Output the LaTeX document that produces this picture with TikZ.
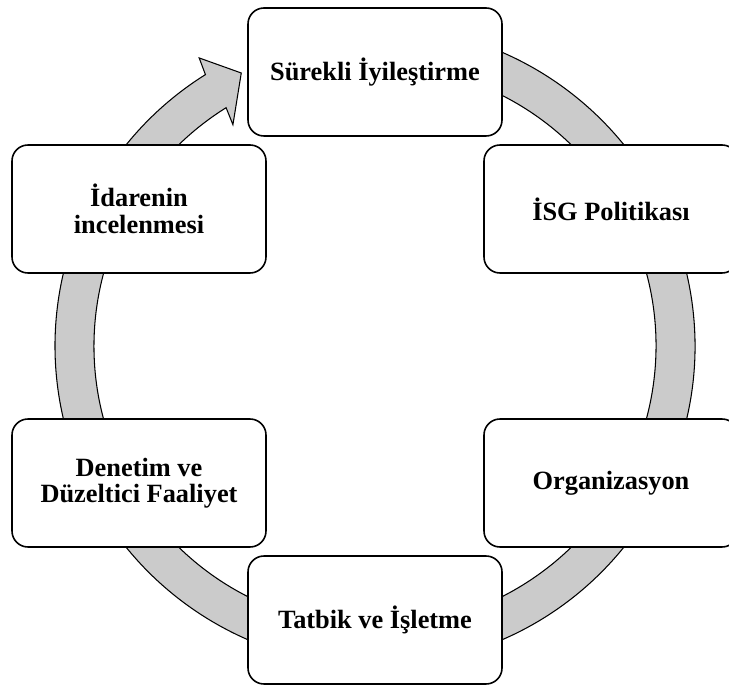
\documentclass[tikz,border=0pt]{standalone}
\usepackage{fontspec}
\setmainfont{Liberation Serif}
\usetikzlibrary{arrows.meta}

\definecolor{ringgray}{RGB}{203,203,203}

\begin{document}
\begin{tikzpicture}[
    >=Stealth,
    box/.style={rectangle, draw, line width=0.9pt, fill=white, rounded corners=0.32cm,
      minimum width=5.08cm, minimum height=2.56cm, align=center,
      font=\bfseries\fontsize{15}{15}\selectfont},
    ring/.style={draw, line width=0.6pt, fill=ringgray}
  ]
    \useasboundingbox (0,0) rectangle (14.58,13.68);

    % circular arrow behind the boxes, tail hidden under the top box
    \draw[ring, shift={(7.5,6.76)}]
      (100:6.4) arc[start angle=100, end angle=-238, radius=6.4]
      -- (-238.6:6.75) -- (-243.9:6.08) -- (-237.3:5.26) -- (-238:5.62)
      arc[start angle=-238, end angle=100, radius=5.62] -- cycle;

    \node[box] (surekli) at (7.5,12.24) {Sürekli İyileştirme};
    \node[box] (politika) at (12.22,9.5) {İSG Politikası};
    \node[box] (organizasyon) at (12.22,4.02) {Organizasyon};
    \node[box] (tatbik) at (7.5,1.28) {Tatbik ve İşletme};
    \node[box] (denetim) at (2.78,4.02) {Denetim ve\\Düzeltici Faaliyet};
    \node[box] (idare) at (2.78,9.5) {İdarenin\\incelenmesi};
  \end{tikzpicture}
\end{document}
